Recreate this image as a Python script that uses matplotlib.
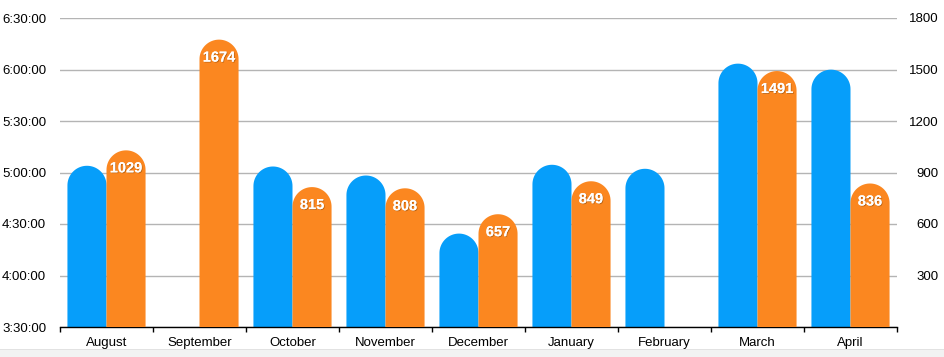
import matplotlib
matplotlib.use("Agg")
import matplotlib.pyplot as plt
import numpy as np
from matplotlib.path import Path
from matplotlib.patches import PathPatch, Rectangle
import matplotlib.patheffects as pe

plt.rcParams['font.family'] = ['Liberation Sans', 'DejaVu Sans']

months = ["August", "September", "October", "November", "December",
          "January", "February", "March", "April"]
# blue series: times (h:mm:ss), None = missing
times = ["5:03:55", None, "5:03:30", "4:58:15", "4:24:25",
         "5:04:30", "5:02:10", "6:03:25", "5:59:55"]
# orange series: counts
counts = [1029, 1674, 815, 808, 657, 849, None, 1491, 836]

left_ticks = ["3:30:00", "4:00:00", "4:30:00", "5:00:00", "5:30:00", "6:00:00", "6:30:00"]
right_ticks = [300, 600, 900, 1200, 1500, 1800]

blue = "#069EFA"
orange = "#FB8720"


def to_sec(s):
    h, m, sec = map(int, s.split(":"))
    return h * 3600 + m * 60 + sec


W, H = 945, 357
fig = plt.figure(figsize=(W / 100, H / 100), dpi=100)
ax = fig.add_axes([60 / W, (H - 327) / H, (897 - 60) / W, (327 - 18) / H])
ax2 = ax.twinx()

ymin, ymax = to_sec("3:30:00"), to_sec("6:30:00")
ax.set_ylim(ymin, ymax)
ax2.set_ylim(0, 1800)
n = len(months)
ax.set_xlim(-0.5, n - 0.5)
ax2.set_xlim(-0.5, n - 0.5)

ax.set_yticks([to_sec(t) for t in left_ticks])
ax.set_yticklabels(left_ticks)
ax2.set_yticks(right_ticks)
ax2.set_yticklabels([str(v) for v in right_ticks])

ax.grid(axis='y', color='#b4b4b4', lw=1)
ax.set_axisbelow(True)
for a in (ax, ax2):
    for s in ['top', 'left', 'right']:
        a.spines[s].set_visible(False)
    a.spines['bottom'].set_visible(False)
ax.spines['bottom'].set_visible(True)
ax.spines['bottom'].set_color('black')
ax.spines['bottom'].set_linewidth(1)

ax.tick_params(axis='y', length=0, pad=10, labelsize=9.5)
ax2.tick_params(axis='y', length=0, pad=30, labelsize=9.5)
for lab in ax2.get_yticklabels():
    lab.set_ha('right')

ax.set_xticks(np.arange(n))
ax.set_xticklabels(months)
ax.set_xticks(np.arange(n + 1) - 0.5, minor=True)
ax.tick_params(axis='x', which='major', length=0, pad=7.5, labelsize=9.5)
ax.tick_params(axis='x', which='minor', length=3.5, width=1, color='black', direction='out')

bw = 0.42
x = np.arange(n)
bvals = [to_sec(t) if t else np.nan for t in times]
ovals = [c if c is not None else np.nan for c in counts]
bars_b = ax.bar(x - bw / 2, [v - ymin if not np.isnan(v) else 0 for v in bvals],
                bottom=ymin, width=bw, color=blue, visible=False)
bars_o = ax2.bar(x + bw / 2, [0 if np.isnan(v) else v for v in ovals],
                 width=bw, color=orange, visible=False)

fig.canvas.draw()


def rounded(a, bars, color, zorder):
    inv = a.transData
    p0 = inv.transform((0, 0))
    px_x = inv.transform((1, 0))[0] - p0[0]
    y_lo, y_hi = a.get_ylim()
    px_y = (inv.transform((0, y_hi))[1] - inv.transform((0, y_lo))[1]) / (y_hi - y_lo)
    for b in bars:
        h = b.get_height()
        if h <= 0:
            continue
        x0 = b.get_x()
        w = b.get_width()
        y0 = b.get_y()
        top = y0 + h
        rx = w / 2
        ry = rx * px_x / px_y
        cx = x0 + rx
        th = np.linspace(0, np.pi, 40)
        arc = np.column_stack([cx + rx * np.cos(th), top - ry + ry * np.sin(th)])
        verts = [(x0 + w, y0), (x0 + w, top - ry)] + [tuple(v) for v in arc] + [(x0, y0), (x0 + w, y0)]
        codes = [Path.MOVETO] + [Path.LINETO] * (len(verts) - 2) + [Path.CLOSEPOLY]
        a.add_patch(PathPatch(Path(verts, codes), facecolor=color, edgecolor='none', zorder=zorder))


rounded(ax, bars_b, blue, 2)
rounded(ax2, bars_o, orange, 3)

for b, v in zip(bars_o, ovals):
    if np.isnan(v):
        continue
    ax2.annotate(str(int(v)), (b.get_x() + b.get_width() / 2, v), xytext=(0, -18),
                 textcoords='offset pixels', ha='center', va='center',
                 color='white', fontsize=10.5, fontweight='bold', zorder=5,
                 path_effects=[pe.withSimplePatchShadow(offset=(0.6, -0.6), shadow_rgbFace='#7a3c00', alpha=0.5), pe.Normal()])

fig.patches.append(Rectangle((0, 0), 1, 7 / H, transform=fig.transFigure,
                             facecolor='#f2f2f2', edgecolor='none', zorder=0))
fig.patches.append(Rectangle((0, 7 / H), 1, 0.8 / H, transform=fig.transFigure,
                             facecolor='#e2e2e2', edgecolor='none', zorder=0))

fig.savefig("out.png", dpi=100)
